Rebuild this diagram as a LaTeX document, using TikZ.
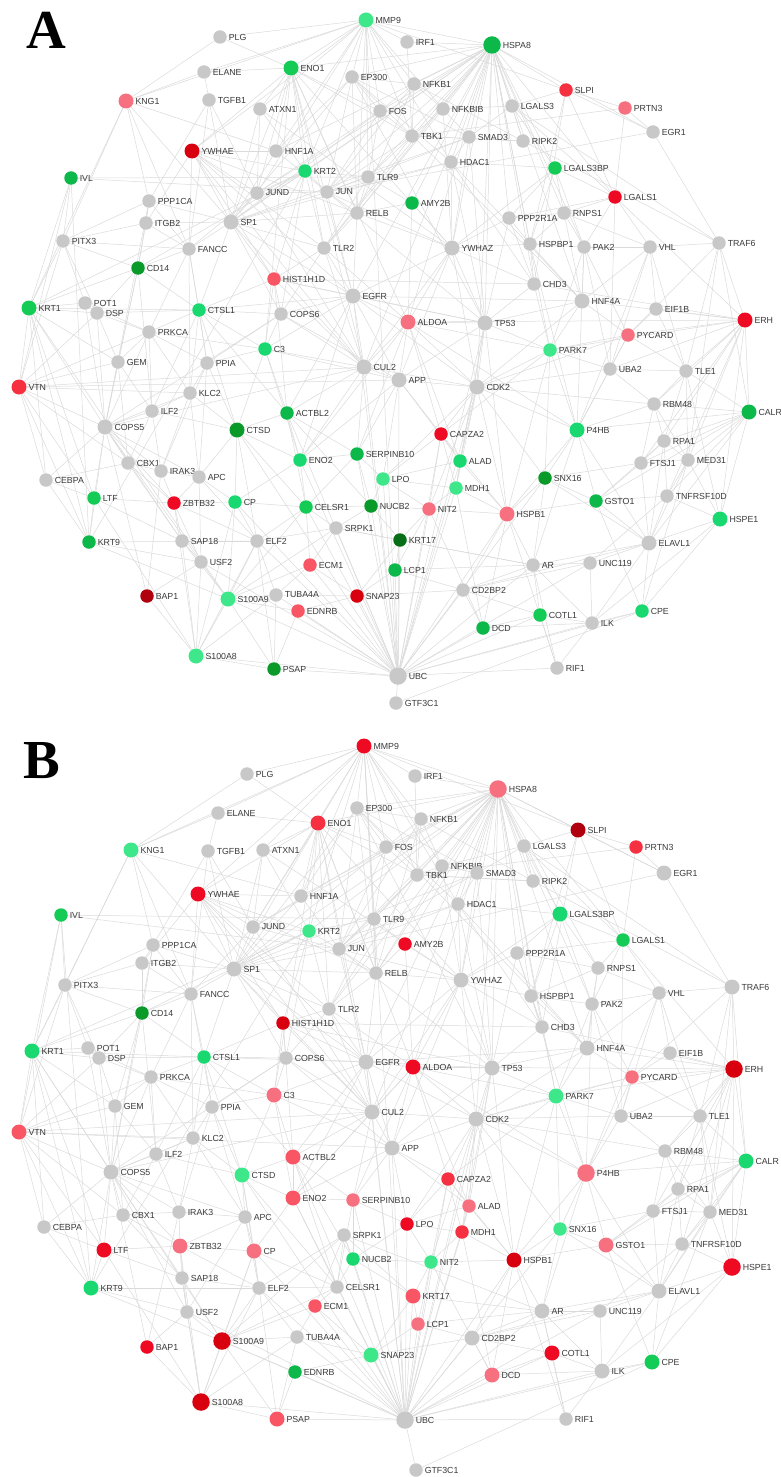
\documentclass[tikz,border=0pt]{standalone}
\usepackage{fontspec}
\setmainfont{Liberation Sans}
\newfontfamily\letterfont{Liberation Serif}
\usetikzlibrary{backgrounds}

\definecolor{nodegray}{HTML}{C8C8C8}
\definecolor{edgegray}{HTML}{DADADA}
\definecolor{txtgray}{HTML}{3A3A3A}
\definecolor{green0}{HTML}{066E18}
\definecolor{green1}{HTML}{0A9A2A}
\definecolor{green2}{HTML}{0DB84A}
\definecolor{green3}{HTML}{14CC55}
\definecolor{green4}{HTML}{1AD870}
\definecolor{green5}{HTML}{3EE88A}
\definecolor{red1}{HTML}{B00010}
\definecolor{red2}{HTML}{D8000F}
\definecolor{red3}{HTML}{EE0A22}
\definecolor{red4}{HTML}{F53040}
\definecolor{red5}{HTML}{F85565}
\definecolor{red6}{HTML}{F77080}

\tikzset{
  gn/.style={circle, fill=nodegray, draw=none, minimum size=13.5pt, inner sep=0pt},
  mid/.style={minimum size=15pt},
  hub/.style={minimum size=17.5pt},
  edge/.style={draw=edgegray, line width=0.5pt},
  panel/.style={font={\letterfont\bfseries\fontsize{55}{55}\selectfont}, inner sep=0pt},
  every label/.style={font=\fontsize{8.8}{9}\selectfont, text=txtgray, inner sep=0pt},
  label distance=1.6pt
}

% interactions, the same for both panels
\newcommand\netedges{HSPA8/MMP9, HSPA8/IRF1, HSPA8/EP300, HSPA8/NFKB1, HSPA8/FOS, HSPA8/NFKBIB,
HSPA8/TBK1, HSPA8/SMAD3, HSPA8/HDAC1, HSPA8/LGALS3, HSPA8/RIPK2, HSPA8/SLPI, HSPA8/EGR1,
HSPA8/LGALS3BP, HSPA8/LGALS1, HSPA8/AMY2B, HSPA8/YWHAZ, HSPA8/PPP2R1A, HSPA8/HSPBP1, HSPA8/RNPS1,
HSPA8/PAK2, HSPA8/TLR9, HSPA8/RELB, HSPA8/JUN, HSPA8/KRT2, HSPA8/ENO1, HSPA8/HNF1A, HSPA8/EGFR,
HSPA8/CDK2, HSPA8/TP53, HSPA8/CHD3, HSPA8/HNF4A, HSPA8/ALDOA, HSPA8/CUL2, HSPA8/TLR2, HSPA8/PARK7,
HSPA8/JUND, HSPA8/SP1,
MMP9/IRF1, MMP9/PLG, MMP9/ENO1, MMP9/EP300, MMP9/FOS, MMP9/NFKB1, MMP9/TBK1, MMP9/NFKBIB,
MMP9/HNF1A, MMP9/KRT2, MMP9/YWHAE, MMP9/ELANE, MMP9/TLR9, MMP9/JUND, MMP9/UBC, MMP9/SLPI,
MMP9/ATXN1, MMP9/HDAC1, MMP9/RELB, MMP9/KNG1,
PLG/ENO1, PLG/KNG1, ELANE/KNG1, ELANE/TGFB1, ELANE/ENO1, KNG1/PITX3, KNG1/KRT1, KNG1/PPP1CA,
KNG1/SP1, KNG1/HNF1A, KNG1/FANCC, TGFB1/PPP1CA, TGFB1/SP1, TGFB1/JUND, TGFB1/FANCC,
ATXN1/JUND, ATXN1/KRT2, ATXN1/ENO1, ATXN1/SP1, ATXN1/YWHAZ, YWHAE/HNF1A, YWHAE/KRT2, YWHAE/SP1,
YWHAE/JUND, YWHAE/FANCC, YWHAE/TLR2, YWHAE/CUL2, YWHAE/ITGB2, YWHAE/ENO1, YWHAE/EGFR, YWHAE/RELB,
YWHAE/HIST1H1D, IVL/PITX3, IVL/KRT1, IVL/TLR9, IVL/JUN, IVL/VTN, IVL/KRT9,
ENO1/HNF1A, ENO1/KRT2, ENO1/JUND, ENO1/SP1, ENO1/TLR2, ENO1/RELB, ENO1/FOS, ENO1/CUL2, ENO1/EGFR,
ENO1/YWHAZ, ENO1/ALDOA, ENO1/C3, ENO1/TBK1, EP300/FOS, EP300/NFKB1, EP300/JUN, EP300/RELB,
EP300/SP1, EP300/HDAC1, EP300/SMAD3, EP300/TP53, EP300/HNF1A, EP300/HNF4A, NFKB1/NFKBIB,
NFKB1/TBK1, NFKB1/RELB, NFKB1/JUN, NFKB1/FOS, FOS/JUN, FOS/JUND, FOS/TBK1, FOS/SP1, FOS/TLR9,
NFKBIB/TBK1, NFKBIB/RELB, NFKBIB/SMAD3, NFKBIB/YWHAZ, TBK1/TLR9, TBK1/IRF1, TBK1/RIPK2, TBK1/TLR2,
TBK1/JUN, SMAD3/HDAC1, SMAD3/JUN, SMAD3/YWHAZ, SMAD3/SP1, SMAD3/TP53, SMAD3/LGALS3, SLPI/EGR1,
SLPI/PRTN3, SLPI/LGALS3, SLPI/LGALS1, SLPI/HSPBP1, SLPI/CHD3, PRTN3/EGR1, PRTN3/TBK1, PRTN3/LGALS1,
EGR1/TRAF6, EGR1/JUN, LGALS3/LGALS3BP, LGALS3/LGALS1, LGALS3/RIPK2, LGALS3/TRAF6, LGALS3/NFKBIB,
RIPK2/TRAF6, RIPK2/NFKB1, RIPK2/TBK1, HDAC1/YWHAZ, HDAC1/SP1, HDAC1/TP53, HDAC1/CHD3, HDAC1/JUN,
HDAC1/LGALS3BP, HDAC1/HNF4A, LGALS3BP/LGALS1, LGALS3BP/PPP2R1A, LGALS3BP/RNPS1, LGALS3BP/PAK2,
LGALS3BP/HSPBP1, LGALS3BP/YWHAZ, LGALS1/RNPS1, LGALS1/PAK2, LGALS1/VHL, LGALS1/ERH,
LGALS1/PPP2R1A, LGALS1/UBA2, TLR9/RELB, TLR9/JUN, TLR9/KRT2, TLR9/TLR2, KRT2/JUN, KRT2/KRT1,
KRT2/SP1, KRT2/JUND, KRT2/TLR2, KRT2/CD14, KRT2/KRT9, KRT2/HIST1H1D, KRT2/COPS6, JUND/SP1,
JUND/JUN, JUND/FANCC, JUND/CUL2, JUN/RELB, JUN/SP1, JUN/TP53, JUN/YWHAZ, JUN/EGFR, JUN/HNF1A,
AMY2B/YWHAZ, AMY2B/RELB, AMY2B/ALDOA, AMY2B/TLR9, PPP1CA/ITGB2, PPP1CA/PITX3, PPP1CA/SP1,
PPP1CA/CD14, PPP1CA/FANCC, ITGB2/SP1, ITGB2/CD14, ITGB2/FANCC, ITGB2/PITX3, SP1/FANCC, SP1/TLR2,
SP1/RELB, SP1/EGFR, SP1/CUL2, SP1/HIST1H1D, SP1/CTSL1, SP1/COPS6, SP1/HNF1A, RELB/TLR2,
RELB/YWHAZ, RELB/EGFR, PPP2R1A/YWHAZ, PPP2R1A/RNPS1, PPP2R1A/HSPBP1, PPP2R1A/CHD3, PPP2R1A/TP53,
RNPS1/PAK2, RNPS1/HSPBP1, RNPS1/HNF4A, RNPS1/VHL, PITX3/KRT1, PITX3/VTN, PITX3/POT1, PITX3/DSP,
PITX3/CD14, PITX3/FANCC, FANCC/CD14, FANCC/CTSL1, FANCC/PRKCA, FANCC/PPIA, FANCC/KLC2,
TLR2/HIST1H1D, TLR2/EGFR, TLR2/COPS6, TLR2/CUL2, TLR2/ALDOA, YWHAZ/TP53, YWHAZ/CHD3, YWHAZ/EGFR,
YWHAZ/CDK2, YWHAZ/ALDOA, YWHAZ/CUL2, YWHAZ/APP, YWHAZ/HSPBP1, HSPBP1/CHD3, HSPBP1/PAK2,
HSPBP1/HNF4A, HSPBP1/P4HB, PAK2/VHL, PAK2/HNF4A, PAK2/PYCARD, PAK2/PARK7, PAK2/UBA2, PAK2/P4HB,
VHL/TRAF6, VHL/EIF1B, VHL/UBA2, VHL/TLE1, VHL/P4HB, VHL/HNF4A, TRAF6/ERH, TRAF6/CALR,
TRAF6/PYCARD, TRAF6/MED31, TRAF6/TLE1,
CD14/KRT1, CD14/COPS5, CD14/DSP, CD14/CTSL1, CD14/GEM, CD14/ILF2, HIST1H1D/EGFR, HIST1H1D/COPS6,
HIST1H1D/CTSL1, HIST1H1D/C3, HIST1H1D/CUL2, HIST1H1D/CHD3, HIST1H1D/TP53, HIST1H1D/ACTBL2,
EGFR/ALDOA, EGFR/CUL2, EGFR/COPS6, EGFR/APP, EGFR/CDK2, EGFR/ACTBL2, EGFR/TP53, EGFR/HNF4A,
EGFR/CTSL1, EGFR/C3, EGFR/ENO2, KRT1/POT1, KRT1/DSP, KRT1/CTSL1, KRT1/VTN, KRT1/LTF, KRT1/KRT9,
KRT1/COPS5, KRT1/S100A9, KRT1/CEBPA, KRT1/GEM, POT1/DSP, POT1/COPS5, POT1/PRKCA, DSP/CTSL1,
DSP/PRKCA, DSP/COPS5, DSP/GEM, DSP/VTN, CTSL1/COPS6, CTSL1/C3, CTSL1/PRKCA, CTSL1/CTSD,
CTSL1/PPIA, CTSL1/KLC2, CTSL1/ILF2, CTSL1/ACTBL2, COPS6/C3, COPS6/CUL2, COPS6/COPS5, COPS6/APP,
COPS6/PPIA, ALDOA/ERH, ALDOA/TP53, ALDOA/CAPZA2, ALDOA/CDK2, ALDOA/APP, ALDOA/ENO2, ALDOA/P4HB,
ALDOA/ALAD, ALDOA/CUL2, ALDOA/PARK7, ALDOA/SERPINB10, TP53/CDK2, TP53/HNF4A, TP53/PARK7,
TP53/CHD3, TP53/APP, TP53/ALAD, TP53/UBC, TP53/HSPB1, TP53/MDH1, ERH/CALR, ERH/PYCARD,
ERH/TLE1, ERH/RPA1, ERH/MED31, ERH/FTSJ1, ERH/TNFRSF10D, ERH/HSPE1, ERH/RBM48, ERH/HNF4A,
ERH/EIF1B, ERH/UBA2, ERH/PARK7, ERH/CHD3, PYCARD/PARK7, PYCARD/EIF1B, PYCARD/UBA2, PYCARD/TLE1,
PYCARD/CDK2, PYCARD/HNF4A, PYCARD/P4HB, PRKCA/GEM, PRKCA/ILF2, PRKCA/KLC2, PRKCA/PPIA,
PRKCA/COPS5, PRKCA/C3, C3/CUL2, C3/ACTBL2, C3/CTSD, C3/PPIA, C3/ENO2, C3/APP, PARK7/CDK2,
PARK7/P4HB, PARK7/HNF4A, PARK7/UBA2, PARK7/SNX16, PARK7/HSPB1, PARK7/CAPZA2, PARK7/CHD3,
GEM/COPS5, GEM/VTN, GEM/ILF2, GEM/CBX1, PPIA/KLC2, PPIA/CTSD, PPIA/APC, PPIA/IRAK3, CUL2/APP,
CUL2/ACTBL2, CUL2/CDK2, CUL2/UBC, CUL2/ENO2, CUL2/COPS5, CUL2/SERPINB10, CUL2/VTN, APP/CDK2,
APP/CAPZA2, APP/ALAD, APP/SERPINB10, APP/UBC, APP/LPO, APP/ENO2, UBA2/TLE1, UBA2/P4HB, UBA2/CDK2,
UBA2/RBM48, TLE1/CALR, TLE1/RBM48, TLE1/RPA1, TLE1/MED31, TLE1/EIF1B, TLE1/HSPE1, VTN/COPS5,
VTN/CEBPA, VTN/KLC2, VTN/PRKCA, VTN/LTF, VTN/KRT9, VTN/APP, VTN/CBX1, KLC2/ILF2, KLC2/CTSD,
KLC2/COPS5, KLC2/IRAK3, KLC2/APC, CDK2/CAPZA2, CDK2/ALAD, CDK2/MDH1, CDK2/P4HB, CDK2/HSPB1,
CDK2/RBM48, CDK2/UBC, CDK2/LPO, CDK2/NIT2, CDK2/SNX16, CDK2/HNF4A, RBM48/CALR, RBM48/RPA1,
RBM48/FTSJ1, RBM48/MED31, RBM48/P4HB, CALR/RPA1, CALR/MED31, CALR/HSPE1, CALR/P4HB, CALR/FTSJ1,
CALR/ELAVL1, CALR/TNFRSF10D, CALR/GSTO1, ILF2/COPS5, ILF2/CBX1, ILF2/IRAK3, ILF2/CTSD,
ACTBL2/CTSD, ACTBL2/ENO2, ACTBL2/SERPINB10, ACTBL2/CELSR1, ACTBL2/NUCB2, ACTBL2/UBC, COPS5/CBX1,
COPS5/IRAK3, COPS5/APC, COPS5/CEBPA, COPS5/LTF, COPS5/KRT9, COPS5/ZBTB32, COPS5/SAP18,
COPS5/USF2, COPS5/BAP1, COPS5/PPP1CA, CTSD/CP, CTSD/ENO2, CTSD/CELSR1, CTSD/APC, CTSD/ELF2,
CTSD/UBC, CAPZA2/ALAD, CAPZA2/MDH1, CAPZA2/NIT2, CAPZA2/LPO, CAPZA2/UBC, CAPZA2/HSPB1,
P4HB/SNX16, P4HB/HSPB1, P4HB/GSTO1, P4HB/AR, P4HB/ELAVL1, RPA1/FTSJ1, RPA1/MED31, RPA1/TNFRSF10D,
RPA1/ELAVL1, RPA1/GSTO1, ENO2/SERPINB10, ENO2/CELSR1, ENO2/UBC, ENO2/CP, SERPINB10/LPO,
SERPINB10/NUCB2, SERPINB10/CELSR1, SERPINB10/UBC, ALAD/MDH1, ALAD/LPO, ALAD/UBC, ALAD/HSPB1,
FTSJ1/MED31, FTSJ1/GSTO1, FTSJ1/ELAVL1, FTSJ1/SNX16, MED31/TNFRSF10D, MED31/HSPE1, MED31/ELAVL1,
MED31/CPE, CBX1/IRAK3, CBX1/CEBPA, CBX1/ZBTB32, CBX1/SAP18, IRAK3/APC, IRAK3/ZBTB32, IRAK3/BAP1,
APC/CP, APC/ELF2, APC/ZBTB32, APC/USF2, CEBPA/LTF, CEBPA/KRT9, LPO/MDH1, LPO/UBC, LPO/NIT2,
LPO/NUCB2, MDH1/HSPB1, MDH1/UBC, MDH1/NIT2, MDH1/DCD, SNX16/GSTO1, SNX16/HSPB1, SNX16/ELAVL1,
SNX16/UBC, SNX16/AR,
LTF/KRT9, LTF/ZBTB32, LTF/SAP18, LTF/S100A8, ZBTB32/CP, ZBTB32/SAP18, ZBTB32/USF2, ZBTB32/S100A8,
ZBTB32/ELF2, CP/ELF2, CP/CELSR1, CP/S100A9, CP/S100A8, CP/UBC, CELSR1/NUCB2, CELSR1/SRPK1,
CELSR1/ELF2, CELSR1/UBC, CELSR1/S100A9, CELSR1/ECM1, NUCB2/SRPK1, NUCB2/UBC, NUCB2/KRT17,
NUCB2/NIT2, NIT2/KRT17, NIT2/HSPB1, NIT2/UBC, NIT2/DCD, NIT2/LCP1, HSPB1/DCD, HSPB1/UBC, HSPB1/AR,
HSPB1/RIF1, HSPB1/CD2BP2, HSPB1/GSTO1, GSTO1/ELAVL1, GSTO1/CPE, GSTO1/TNFRSF10D,
TNFRSF10D/HSPE1, TNFRSF10D/ELAVL1, TNFRSF10D/UNC119, HSPE1/ELAVL1, HSPE1/CPE, HSPE1/ILK,
SRPK1/ELF2, SRPK1/UBC, SRPK1/S100A9, SRPK1/ECM1, SRPK1/KRT17, SRPK1/AR, KRT9/ELF2, KRT9/S100A9,
KRT9/USF2, SAP18/USF2, SAP18/S100A9, SAP18/S100A8, SAP18/ELF2, ELF2/S100A9, ELF2/S100A8,
ELF2/PSAP, ELF2/UBC, ELF2/TUBA4A, KRT17/LCP1, KRT17/UBC, KRT17/AR, KRT17/SNAP23, ELAVL1/UNC119,
ELAVL1/CPE, ELAVL1/ILK, ELAVL1/AR, ELAVL1/CD2BP2, USF2/S100A9, USF2/S100A8, USF2/BAP1, USF2/UBC,
ECM1/UBC, ECM1/TUBA4A, ECM1/SNAP23, ECM1/S100A9, LCP1/UBC, LCP1/CD2BP2, LCP1/SNAP23, LCP1/AR,
AR/UNC119, AR/COTL1, AR/CD2BP2, AR/RIF1, AR/ILK, AR/UBC, UNC119/ILK, UNC119/CD2BP2, UNC119/UBC,
BAP1/S100A8, S100A9/S100A8, S100A9/TUBA4A, S100A9/UBC, S100A9/PSAP, S100A9/EDNRB, TUBA4A/UBC,
TUBA4A/PSAP, TUBA4A/SNAP23, TUBA4A/S100A8, SNAP23/UBC, SNAP23/EDNRB, SNAP23/CD2BP2, EDNRB/UBC,
EDNRB/PSAP, CD2BP2/DCD, CD2BP2/UBC, CD2BP2/COTL1, COTL1/DCD, COTL1/ILK, COTL1/RIF1, COTL1/UBC,
CPE/ILK, CPE/UBC, CPE/GTF3C1, ILK/DCD, ILK/RIF1, ILK/UBC, DCD/UBC, S100A8/PSAP, S100A8/UBC,
PSAP/UBC, UBC/RIF1, UBC/GTF3C1, UBC/EGFR}

\begin{document}
\begin{tikzpicture}[x=1pt,y=-1pt]
\useasboundingbox (0,0) rectangle (781,1477);

% ---------------- panel A ----------------
\node[panel] (labA) at (46,30) {A};
\node[gn, fill=green5, mid, label=right:MMP9] (aMMP9) at (366,20) {};
\node[gn, label=right:PLG] (aPLG) at (220,37) {};
\node[gn, label=right:IRF1] (aIRF1) at (407,42) {};
\node[gn, fill=green2, hub, label=right:HSPA8] (aHSPA8) at (492,45) {};
\node[gn, label=right:ELANE] (aELANE) at (204,72) {};
\node[gn, fill=green3, mid, label=right:ENO1] (aENO1) at (291,68) {};
\node[gn, label=right:EP300] (aEP300) at (352,77) {};
\node[gn, label=right:NFKB1] (aNFKB1) at (414,84) {};
\node[gn, fill=red4, label=right:SLPI] (aSLPI) at (566,90) {};
\node[gn, fill=red6, mid, label=right:KNG1] (aKNG1) at (126,101) {};
\node[gn, label=right:TGFB1] (aTGFB1) at (209,100) {};
\node[gn, label=right:ATXN1] (aATXN1) at (260,109) {};
\node[gn, label=right:FOS] (aFOS) at (380,111) {};
\node[gn, label=right:NFKBIB] (aNFKBIB) at (443,109) {};
\node[gn, label=right:LGALS3] (aLGALS3) at (512,106) {};
\node[gn, fill=red6, label=right:PRTN3] (aPRTN3) at (625,108) {};
\node[gn, label=right:TBK1] (aTBK1) at (412,136) {};
\node[gn, label=right:SMAD3] (aSMAD3) at (469,137) {};
\node[gn, label=right:RIPK2] (aRIPK2) at (523,141) {};
\node[gn, label=right:EGR1] (aEGR1) at (653,132) {};
\node[gn, fill=red2, mid, label=right:YWHAE] (aYWHAE) at (192,151) {};
\node[gn, label=right:HNF1A] (aHNF1A) at (276,151) {};
\node[gn, label=right:HDAC1] (aHDAC1) at (451,162) {};
\node[gn, fill=green3, label=right:LGALS3BP] (aLGALS3BP) at (555,168) {};
\node[gn, fill=green2, label=right:IVL] (aIVL) at (71,178) {};
\node[gn, fill=green4, label=right:KRT2] (aKRT2) at (305,171) {};
\node[gn, label=right:TLR9] (aTLR9) at (368,177) {};
\node[gn, label=right:JUND] (aJUND) at (257,193) {};
\node[gn, label=right:JUN] (aJUN) at (327,192) {};
\node[gn, fill=green2, label=right:AMY2B] (aAMY2B) at (412,203) {};
\node[gn, fill=red3, label=right:LGALS1] (aLGALS1) at (615,197) {};
\node[gn, label=right:PPP1CA] (aPPP1CA) at (149,201) {};
\node[gn, label=right:ITGB2] (aITGB2) at (146,223) {};
\node[gn, mid, label=right:SP1] (aSP1) at (231,222) {};
\node[gn, label=right:RELB] (aRELB) at (357,213) {};
\node[gn, label=right:PPP2R1A] (aPPP2R1A) at (509,218) {};
\node[gn, label=right:RNPS1] (aRNPS1) at (564,213) {};
\node[gn, label=right:PITX3] (aPITX3) at (63,241) {};
\node[gn, label=right:FANCC] (aFANCC) at (189,249) {};
\node[gn, label=right:TLR2] (aTLR2) at (324,248) {};
\node[gn, mid, label=right:YWHAZ] (aYWHAZ) at (452,248) {};
\node[gn, label=right:HSPBP1] (aHSPBP1) at (530,244) {};
\node[gn, label=right:PAK2] (aPAK2) at (584,247) {};
\node[gn, label=right:VHL] (aVHL) at (650,247) {};
\node[gn, label=right:TRAF6] (aTRAF6) at (719,243) {};
\node[gn, fill=green1, label=right:CD14] (aCD14) at (138,268) {};
\node[gn, fill=red5, label=right:HIST1H1D] (aHIST1H1D) at (274,279) {};
\node[gn, label=right:CHD3] (aCHD3) at (534,284) {};
\node[gn, mid, label=right:EGFR] (aEGFR) at (353,296) {};
\node[gn, mid, label=right:HNF4A] (aHNF4A) at (582,301) {};
\node[gn, label=right:EIF1B] (aEIF1B) at (656,309) {};
\node[gn, fill=green3, mid, label=right:KRT1] (aKRT1) at (29,308) {};
\node[gn, label=right:POT1] (aPOT1) at (85,303) {};
\node[gn, label=right:DSP] (aDSP) at (97,313) {};
\node[gn, fill=green4, label=right:CTSL1] (aCTSL1) at (199,310) {};
\node[gn, label=right:COPS6] (aCOPS6) at (281,314) {};
\node[gn, fill=red6, mid, label=right:ALDOA] (aALDOA) at (408,322) {};
\node[gn, mid, label=right:TP53] (aTP53) at (485,323) {};
\node[gn, fill=red3, mid, label=right:ERH] (aERH) at (745,320) {};
\node[gn, fill=red6, label=right:PYCARD] (aPYCARD) at (628,335) {};
\node[gn, label=right:PRKCA] (aPRKCA) at (149,332) {};
\node[gn, fill=green4, label=right:C3] (aC3) at (265,349) {};
\node[gn, fill=green5, label=right:PARK7] (aPARK7) at (550,350) {};
\node[gn, label=right:GEM] (aGEM) at (118,362) {};
\node[gn, label=right:PPIA] (aPPIA) at (207,363) {};
\node[gn, mid, label=right:CUL2] (aCUL2) at (364,367) {};
\node[gn, mid, label=right:APP] (aAPP) at (399,380) {};
\node[gn, label=right:UBA2] (aUBA2) at (610,369) {};
\node[gn, label=right:TLE1] (aTLE1) at (686,371) {};
\node[gn, fill=red4, mid, label=right:VTN] (aVTN) at (19,387) {};
\node[gn, label=right:KLC2] (aKLC2) at (190,393) {};
\node[gn, mid, label=right:CDK2] (aCDK2) at (477,387) {};
\node[gn, label=right:RBM48] (aRBM48) at (654,404) {};
\node[gn, fill=green2, mid, label=right:CALR] (aCALR) at (749,412) {};
\node[gn, label=right:ILF2] (aILF2) at (152,411) {};
\node[gn, fill=green2, label=right:ACTBL2] (aACTBL2) at (287,413) {};
\node[gn, mid, label=right:COPS5] (aCOPS5) at (105,427) {};
\node[gn, fill=green1, mid, label=right:CTSD] (aCTSD) at (237,430) {};
\node[gn, fill=red3, label=right:CAPZA2] (aCAPZA2) at (441,434) {};
\node[gn, fill=green4, mid, label=right:P4HB] (aP4HB) at (577,430) {};
\node[gn, label=right:RPA1] (aRPA1) at (664,441) {};
\node[gn, fill=green4, label=right:ENO2] (aENO2) at (300,460) {};
\node[gn, fill=green2, label=right:SERPINB10] (aSERPINB10) at (357,454) {};
\node[gn, fill=green4, label=right:ALAD] (aALAD) at (460,461) {};
\node[gn, label=right:FTSJ1] (aFTSJ1) at (641,463) {};
\node[gn, label=right:MED31] (aMED31) at (688,460) {};
\node[gn, label=right:CBX1] (aCBX1) at (128,463) {};
\node[gn, label=right:IRAK3] (aIRAK3) at (161,471) {};
\node[gn, label=right:APC] (aAPC) at (199,477) {};
\node[gn, label=right:CEBPA] (aCEBPA) at (46,480) {};
\node[gn, fill=green5, label=right:LPO] (aLPO) at (383,479) {};
\node[gn, fill=green5, label=right:MDH1] (aMDH1) at (456,488) {};
\node[gn, fill=green1, label=right:SNX16] (aSNX16) at (545,478) {};
\node[gn, fill=green3, label=right:LTF] (aLTF) at (94,498) {};
\node[gn, fill=red3, label=right:ZBTB32] (aZBTB32) at (174,503) {};
\node[gn, fill=green4, label=right:CP] (aCP) at (235,502) {};
\node[gn, fill=green3, label=right:CELSR1] (aCELSR1) at (306,507) {};
\node[gn, fill=green1, label=right:NUCB2] (aNUCB2) at (371,506) {};
\node[gn, fill=red6, label=right:NIT2] (aNIT2) at (429,509) {};
\node[gn, fill=red6, mid, label=right:HSPB1] (aHSPB1) at (507,514) {};
\node[gn, fill=green2, label=right:GSTO1] (aGSTO1) at (596,501) {};
\node[gn, label=right:TNFRSF10D] (aTNFRSF10D) at (667,496) {};
\node[gn, fill=green4, mid, label=right:HSPE1] (aHSPE1) at (720,519) {};
\node[gn, label=right:SRPK1] (aSRPK1) at (336,528) {};
\node[gn, fill=green2, label=right:KRT9] (aKRT9) at (89,542) {};
\node[gn, label=right:SAP18] (aSAP18) at (182,541) {};
\node[gn, label=right:ELF2] (aELF2) at (257,541) {};
\node[gn, fill=green0, label=right:KRT17] (aKRT17) at (400,540) {};
\node[gn, mid, label=right:ELAVL1] (aELAVL1) at (649,543) {};
\node[gn, label=right:USF2] (aUSF2) at (201,562) {};
\node[gn, fill=red5, label=right:ECM1] (aECM1) at (310,565) {};
\node[gn, fill=green2, label=right:LCP1] (aLCP1) at (395,570) {};
\node[gn, label=right:AR] (aAR) at (533,565) {};
\node[gn, label=right:UNC119] (aUNC119) at (590,563) {};
\node[gn, fill=red1, label=right:BAP1] (aBAP1) at (147,596) {};
\node[gn, fill=green5, mid, label=right:S100A9] (aS100A9) at (228,599) {};
\node[gn, label=right:TUBA4A] (aTUBA4A) at (276,595) {};
\node[gn, fill=red2, label=right:SNAP23] (aSNAP23) at (357,596) {};
\node[gn, fill=red5, label=right:EDNRB] (aEDNRB) at (298,611) {};
\node[gn, label=right:CD2BP2] (aCD2BP2) at (463,590) {};
\node[gn, fill=green3, label=right:COTL1] (aCOTL1) at (540,615) {};
\node[gn, fill=green4, label=right:CPE] (aCPE) at (642,611) {};
\node[gn, label=right:ILK] (aILK) at (592,623) {};
\node[gn, fill=green2, label=right:DCD] (aDCD) at (483,628) {};
\node[gn, fill=green5, mid, label=right:S100A8] (aS100A8) at (196,656) {};
\node[gn, fill=green1, label=right:PSAP] (aPSAP) at (274,669) {};
\node[gn, hub, label=right:UBC] (aUBC) at (398,676) {};
\node[gn, label=right:RIF1] (aRIF1) at (557,668) {};
\node[gn, label=right:GTF3C1] (aGTF3C1) at (396,703) {};

% ---------------- panel B ----------------
\node[panel] (labB) at (42,761) {B};
\node[gn, fill=red3, mid, label=right:MMP9] (bMMP9) at (364,746) {};
\node[gn, label=right:PLG] (bPLG) at (247,774) {};
\node[gn, label=right:IRF1] (bIRF1) at (415,776) {};
\node[gn, fill=red6, hub, label=right:HSPA8] (bHSPA8) at (498,789) {};
\node[gn, label=right:ELANE] (bELANE) at (218,813) {};
\node[gn, fill=red4, mid, label=right:ENO1] (bENO1) at (318,823) {};
\node[gn, label=right:EP300] (bEP300) at (357,808) {};
\node[gn, label=right:NFKB1] (bNFKB1) at (421,819) {};
\node[gn, fill=red1, mid, label=right:SLPI] (bSLPI) at (578,830) {};
\node[gn, fill=green5, mid, label=right:KNG1] (bKNG1) at (131,850) {};
\node[gn, label=right:TGFB1] (bTGFB1) at (208,851) {};
\node[gn, label=right:ATXN1] (bATXN1) at (263,850) {};
\node[gn, label=right:FOS] (bFOS) at (386,847) {};
\node[gn, label=right:NFKBIB] (bNFKBIB) at (442,866) {};
\node[gn, label=right:LGALS3] (bLGALS3) at (524,846) {};
\node[gn, fill=red4, label=right:PRTN3] (bPRTN3) at (636,847) {};
\node[gn, label=right:TBK1] (bTBK1) at (417,875) {};
\node[gn, label=right:SMAD3] (bSMAD3) at (477,873) {};
\node[gn, label=right:RIPK2] (bRIPK2) at (533,881) {};
\node[gn, mid, label=right:EGR1] (bEGR1) at (664,873) {};
\node[gn, fill=red3, mid, label=right:YWHAE] (bYWHAE) at (198,894) {};
\node[gn, label=right:HNF1A] (bHNF1A) at (301,896) {};
\node[gn, label=right:HDAC1] (bHDAC1) at (458,904) {};
\node[gn, fill=green4, mid, label=right:LGALS3BP] (bLGALS3BP) at (560,914) {};
\node[gn, fill=green3, label=right:IVL] (bIVL) at (61,915) {};
\node[gn, fill=green5, label=right:KRT2] (bKRT2) at (309,931) {};
\node[gn, label=right:TLR9] (bTLR9) at (374,919) {};
\node[gn, label=right:JUND] (bJUND) at (253,927) {};
\node[gn, label=right:JUN] (bJUN) at (339,949) {};
\node[gn, fill=red3, label=right:AMY2B] (bAMY2B) at (405,944) {};
\node[gn, fill=green3, label=right:LGALS1] (bLGALS1) at (623,940) {};
\node[gn, label=right:PPP1CA] (bPPP1CA) at (153,945) {};
\node[gn, label=right:ITGB2] (bITGB2) at (142,963) {};
\node[gn, mid, label=right:SP1] (bSP1) at (234,969) {};
\node[gn, label=right:RELB] (bRELB) at (376,973) {};
\node[gn, label=right:PPP2R1A] (bPPP2R1A) at (517,953) {};
\node[gn, label=right:RNPS1] (bRNPS1) at (598,968) {};
\node[gn, label=right:PITX3] (bPITX3) at (65,985) {};
\node[gn, label=right:FANCC] (bFANCC) at (191,994) {};
\node[gn, label=right:TLR2] (bTLR2) at (329,1009) {};
\node[gn, mid, label=right:YWHAZ] (bYWHAZ) at (461,980) {};
\node[gn, label=right:HSPBP1] (bHSPBP1) at (531,996) {};
\node[gn, label=right:PAK2] (bPAK2) at (592,1004) {};
\node[gn, label=right:VHL] (bVHL) at (659,993) {};
\node[gn, mid, label=right:TRAF6] (bTRAF6) at (732,987) {};
\node[gn, fill=green1, label=right:CD14] (bCD14) at (142,1013) {};
\node[gn, fill=red2, label=right:HIST1H1D] (bHIST1H1D) at (283,1023) {};
\node[gn, label=right:CHD3] (bCHD3) at (542,1027) {};
\node[gn, mid, label=right:EGFR] (bEGFR) at (366,1062) {};
\node[gn, mid, label=right:HNF4A] (bHNF4A) at (587,1048) {};
\node[gn, label=right:EIF1B] (bEIF1B) at (670,1053) {};
\node[gn, fill=green4, mid, label=right:KRT1] (bKRT1) at (32,1051) {};
\node[gn, label=right:POT1] (bPOT1) at (88,1048) {};
\node[gn, label=right:DSP] (bDSP) at (99,1058) {};
\node[gn, fill=green4, label=right:CTSL1] (bCTSL1) at (204,1057) {};
\node[gn, label=right:COPS6] (bCOPS6) at (286,1058) {};
\node[gn, fill=red3, mid, label=right:ALDOA] (bALDOA) at (413,1067) {};
\node[gn, mid, label=right:TP53] (bTP53) at (492,1068) {};
\node[gn, fill=red2, hub, label=right:ERH] (bERH) at (734,1069) {};
\node[gn, fill=red6, label=right:PYCARD] (bPYCARD) at (632,1077) {};
\node[gn, label=right:PRKCA] (bPRKCA) at (151,1077) {};
\node[gn, fill=red6, mid, label=right:C3] (bC3) at (274,1095) {};
\node[gn, fill=green5, mid, label=right:PARK7] (bPARK7) at (556,1096) {};
\node[gn, label=right:GEM] (bGEM) at (115,1106) {};
\node[gn, label=right:PPIA] (bPPIA) at (212,1107) {};
\node[gn, mid, label=right:CUL2] (bCUL2) at (372,1112) {};
\node[gn, mid, label=right:APP] (bAPP) at (392,1148) {};
\node[gn, label=right:UBA2] (bUBA2) at (621,1116) {};
\node[gn, label=right:TLE1] (bTLE1) at (700,1116) {};
\node[gn, fill=red5, mid, label=right:VTN] (bVTN) at (19,1132) {};
\node[gn, label=right:KLC2] (bKLC2) at (193,1138) {};
\node[gn, mid, label=right:CDK2] (bCDK2) at (476,1119) {};
\node[gn, label=right:RBM48] (bRBM48) at (665,1151) {};
\node[gn, fill=green4, mid, label=right:CALR] (bCALR) at (746,1161) {};
\node[gn, label=right:ILF2] (bILF2) at (156,1154) {};
\node[gn, fill=red5, mid, label=right:ACTBL2] (bACTBL2) at (293,1157) {};
\node[gn, mid, label=right:COPS5] (bCOPS5) at (111,1172) {};
\node[gn, fill=green5, mid, label=right:CTSD] (bCTSD) at (242,1175) {};
\node[gn, fill=red4, label=right:CAPZA2] (bCAPZA2) at (448,1179) {};
\node[gn, fill=red6, hub, label=right:P4HB] (bP4HB) at (586,1173) {};
\node[gn, label=right:RPA1] (bRPA1) at (678,1189) {};
\node[gn, fill=red5, mid, label=right:ENO2] (bENO2) at (293,1198) {};
\node[gn, fill=red6, label=right:SERPINB10] (bSERPINB10) at (353,1200) {};
\node[gn, fill=red6, label=right:ALAD] (bALAD) at (469,1206) {};
\node[gn, label=right:FTSJ1] (bFTSJ1) at (653,1211) {};
\node[gn, label=right:MED31] (bMED31) at (710,1212) {};
\node[gn, label=right:CBX1] (bCBX1) at (123,1215) {};
\node[gn, label=right:IRAK3] (bIRAK3) at (179,1212) {};
\node[gn, label=right:APC] (bAPC) at (245,1217) {};
\node[gn, label=right:CEBPA] (bCEBPA) at (44,1227) {};
\node[gn, fill=red3, label=right:LPO] (bLPO) at (407,1224) {};
\node[gn, fill=red4, label=right:MDH1] (bMDH1) at (462,1232) {};
\node[gn, fill=green5, label=right:SNX16] (bSNX16) at (560,1229) {};
\node[gn, fill=red3, mid, label=right:LTF] (bLTF) at (104,1250) {};
\node[gn, fill=red6, mid, label=right:ZBTB32] (bZBTB32) at (180,1246) {};
\node[gn, fill=red6, mid, label=right:CP] (bCP) at (254,1251) {};
\node[gn, label=right:SRPK1] (bSRPK1) at (344,1235) {};
\node[gn, fill=green4, label=right:NUCB2] (bNUCB2) at (353,1259) {};
\node[gn, fill=green5, label=right:NIT2] (bNIT2) at (431,1262) {};
\node[gn, fill=red2, mid, label=right:HSPB1] (bHSPB1) at (514,1260) {};
\node[gn, fill=red6, mid, label=right:GSTO1] (bGSTO1) at (606,1245) {};
\node[gn, label=right:TNFRSF10D] (bTNFRSF10D) at (682,1244) {};
\node[gn, fill=red3, hub, label=right:HSPE1] (bHSPE1) at (732,1267) {};
\node[gn, fill=green4, mid, label=right:KRT9] (bKRT9) at (91,1288) {};
\node[gn, label=right:SAP18] (bSAP18) at (182,1278) {};
\node[gn, label=right:ELF2] (bELF2) at (259,1288) {};
\node[gn, label=right:CELSR1] (bCELSR1) at (337,1287) {};
\node[gn, fill=red5, mid, label=right:KRT17] (bKRT17) at (413,1296) {};
\node[gn, mid, label=right:ELAVL1] (bELAVL1) at (659,1291) {};
\node[gn, label=right:USF2] (bUSF2) at (187,1312) {};
\node[gn, fill=red5, label=right:ECM1] (bECM1) at (315,1306) {};
\node[gn, fill=red6, label=right:LCP1] (bLCP1) at (418,1324) {};
\node[gn, mid, label=right:AR] (bAR) at (542,1311) {};
\node[gn, label=right:UNC119] (bUNC119) at (600,1311) {};
\node[gn, fill=red3, label=right:BAP1] (bBAP1) at (147,1347) {};
\node[gn, fill=red2, hub, label=right:S100A9] (bS100A9) at (222,1341) {};
\node[gn, label=right:TUBA4A] (bTUBA4A) at (297,1337) {};
\node[gn, fill=green5, mid, label=right:SNAP23] (bSNAP23) at (371,1355) {};
\node[gn, fill=green2, label=right:EDNRB] (bEDNRB) at (295,1372) {};
\node[gn, mid, label=right:CD2BP2] (bCD2BP2) at (472,1338) {};
\node[gn, fill=red3, mid, label=right:COTL1] (bCOTL1) at (552,1353) {};
\node[gn, fill=green3, mid, label=right:CPE] (bCPE) at (652,1362) {};
\node[gn, mid, label=right:ILK] (bILK) at (602,1371) {};
\node[gn, fill=red6, mid, label=right:DCD] (bDCD) at (492,1375) {};
\node[gn, fill=red2, hub, label=right:S100A8] (bS100A8) at (201,1402) {};
\node[gn, fill=red5, mid, label=right:PSAP] (bPSAP) at (277,1419) {};
\node[gn, hub, label=right:UBC] (bUBC) at (405,1420) {};
\node[gn, label=right:RIF1] (bRIF1) at (566,1419) {};
\node[gn, label=right:GTF3C1] (bGTF3C1) at (416,1470) {};

% interaction lines under the nodes
\begin{scope}[on background layer]
  \foreach \u/\v in \netedges {\path[edge] (a\u) -- (a\v);}
  \foreach \u/\v in \netedges {\path[edge] (b\u) -- (b\v);}
\end{scope}
\end{tikzpicture}
\end{document}
